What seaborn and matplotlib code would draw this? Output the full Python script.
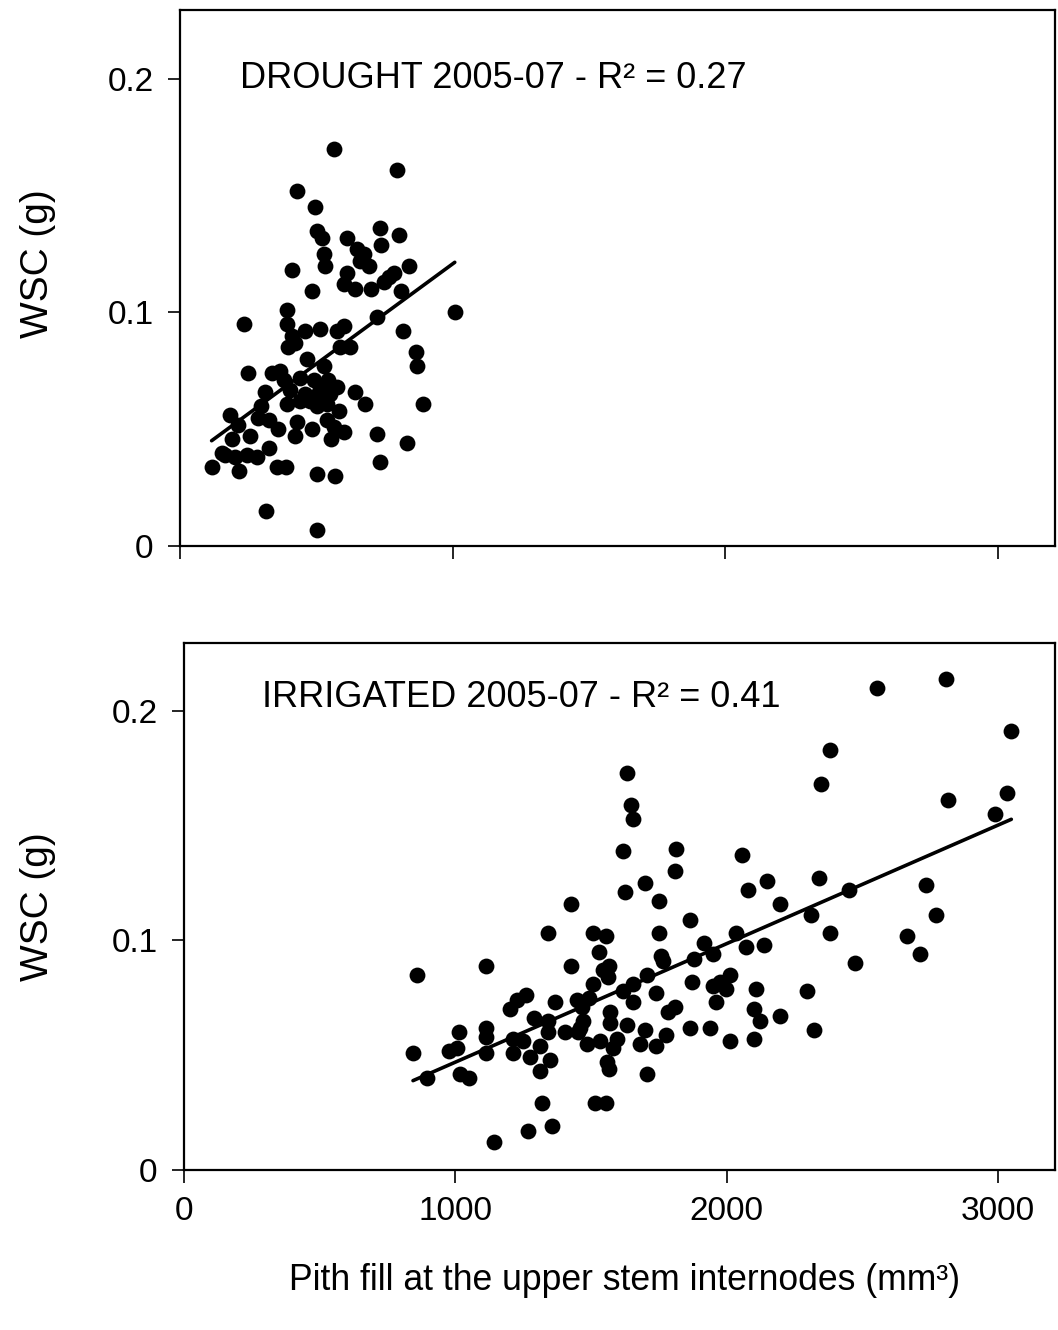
import numpy as np
import pandas as pd
import matplotlib
matplotlib.use("Agg")
import matplotlib.pyplot as plt
import seaborn as sns

# ==================================================
# DATA
# ==================================================

drought_pith = [
    564, 797, 431, 496, 503, 521, 527, 533, 732, 803, 739, 613, 650, 674,
    662, 692, 411, 613, 784, 766, 750, 841, 600, 643, 701, 809, 484, 1008,
    723, 392, 235, 819, 392, 512, 576, 600, 864, 870, 892, 411, 423, 398,
    466, 588, 625, 249, 337, 368, 380, 527, 441, 490, 515, 576, 643, 680,
    312, 392, 441, 478, 503, 539, 582, 184, 214, 286, 325, 361, 429, 423,
    484, 539, 564, 555, 600, 723, 833, 190, 257, 153, 202, 116, 218, 245,
    282, 325, 355, 390, 503, 570, 732, 315, 503, 460, 507, 551, 544, 404,
    298, 165, 460,
]
drought_wsc = [
    0.170, 0.161, 0.152, 0.145, 0.135, 0.132, 0.125, 0.120, 0.136, 0.133,
    0.129, 0.132, 0.127, 0.125, 0.122, 0.120, 0.118, 0.117, 0.117, 0.115,
    0.113, 0.120, 0.112, 0.110, 0.110, 0.109, 0.109, 0.100, 0.098, 0.101,
    0.095, 0.092, 0.095, 0.093, 0.092, 0.094, 0.083, 0.077, 0.061, 0.090,
    0.087, 0.085, 0.080, 0.085, 0.085, 0.074, 0.074, 0.075, 0.071, 0.077,
    0.072, 0.071, 0.068, 0.068, 0.066, 0.061, 0.066, 0.061, 0.062, 0.062,
    0.060, 0.061, 0.058, 0.056, 0.052, 0.055, 0.054, 0.050, 0.053, 0.047,
    0.050, 0.054, 0.051, 0.046, 0.049, 0.048, 0.044, 0.046, 0.047, 0.040,
    0.038, 0.034, 0.032, 0.039, 0.038, 0.042, 0.034, 0.034, 0.031, 0.030,
    0.036, 0.015, 0.007, 0.065, 0.065, 0.065, 0.071, 0.067, 0.060, 0.039,
    0.092,
]

irrigated_pith = [
    1631, 1647, 1653, 1619, 1815, 1809, 1699, 1625, 1751, 1426, 1864, 1341,
    1508, 1555, 1529, 1751, 1917, 1950, 1880, 1757, 1764, 1114, 859, 1426,
    1567, 1543, 1561, 1508, 1705, 1656, 1619, 1741, 1656, 1874, 1950, 1974,
    1999, 1962, 1260, 1227, 1202, 1368, 1447, 1494, 1466, 1472, 1570, 1570,
    1631, 1290, 1343, 1343, 1404, 1453, 1809, 1784, 1864, 1938, 1699, 1778,
    1012, 1114, 1114, 1214, 1251, 1484, 1533, 1594, 1582, 1680, 1741, 2011,
    844, 975, 1006, 1114, 1214, 1276, 1313, 1349, 1313, 1558, 1567, 896,
    1018, 1049, 1705, 1319, 1515, 1555, 1267, 1356, 1143, 2808, 2553, 3049,
    2379, 2348, 2815, 3034, 2989, 2056, 2078, 2150, 2195, 2342, 2450, 2734,
    2771, 2311, 2379, 2036, 2072, 2137, 2663, 2712, 2472, 2011, 2109, 2295,
    2100, 2121, 2195, 2321, 2100, 1460,
]
irrigated_wsc = [
    0.173, 0.159, 0.153, 0.139, 0.140, 0.130, 0.125, 0.121, 0.117, 0.116,
    0.109, 0.103, 0.103, 0.102, 0.095, 0.103, 0.099, 0.094, 0.092, 0.093,
    0.091, 0.089, 0.085, 0.089, 0.089, 0.087, 0.084, 0.081, 0.085, 0.081,
    0.078, 0.077, 0.073, 0.082, 0.080, 0.082, 0.079, 0.073, 0.076, 0.074,
    0.070, 0.073, 0.074, 0.075, 0.071, 0.065, 0.069, 0.064, 0.063, 0.066,
    0.065, 0.060, 0.060, 0.060, 0.071, 0.069, 0.062, 0.062, 0.061, 0.059,
    0.060, 0.062, 0.058, 0.057, 0.056, 0.055, 0.056, 0.057, 0.053, 0.055,
    0.054, 0.056, 0.051, 0.052, 0.053, 0.051, 0.051, 0.049, 0.054, 0.048,
    0.043, 0.047, 0.044, 0.040, 0.042, 0.040, 0.042, 0.029, 0.029, 0.029,
    0.017, 0.019, 0.012, 0.214, 0.210, 0.191, 0.183, 0.168, 0.161, 0.164,
    0.155, 0.137, 0.122, 0.126, 0.116, 0.127, 0.122, 0.124, 0.111, 0.111,
    0.103, 0.103, 0.097, 0.098, 0.102, 0.094, 0.090, 0.085, 0.079, 0.078,
    0.070, 0.065, 0.067, 0.061, 0.057, 0.062,
]

panel_labels = ["DROUGHT 2005-07 - R\u00b2 = 0.27", "IRRIGATED 2005-07 - R\u00b2 = 0.41"]
x_ticks = [0, 1000, 2000, 3000]
y_ticks = [0, 0.1, 0.2]
y_tick_labels = ["0", "0.1", "0.2"]

drought = pd.DataFrame({"pith": drought_pith, "wsc": drought_wsc})
irrigated = pd.DataFrame({"pith": irrigated_pith, "wsc": irrigated_wsc})

# ==================================================
# STYLE
# ==================================================

sns.set_style("ticks")
plt.rcParams["font.family"] = ["Liberation Sans", "DejaVu Sans"]
plt.rcParams["text.color"] = "black"
plt.rcParams["axes.labelcolor"] = "black"
plt.rcParams["xtick.color"] = "black"
plt.rcParams["ytick.color"] = "black"

fig = plt.figure(figsize=(10.58, 13.30), dpi=100)

ax1 = fig.add_axes([180 / 1058, 1 - 546 / 1330, 875 / 1058, 536 / 1330])
ax2 = fig.add_axes([184 / 1058, 1 - 1170 / 1330, 871 / 1058, 527 / 1330])

# ==================================================
# PANELS
# ==================================================

for ax, df, label, lx, ly, ylx, yly in [
    (ax1, drought, panel_labels[0], 0.0686, 0.854, -0.162, 0.526),
    (ax2, irrigated, panel_labels[1], 0.0896, 0.879, -0.168, 0.50),
]:
    sns.regplot(
        data=df,
        x="pith",
        y="wsc",
        ax=ax,
        ci=None,
        color="black",
        scatter_kws={"s": 130, "linewidths": 0, "alpha": 1},
        line_kws={"lw": 2.6, "color": "black"},
    )

    ax.set_xlim(0, 3210)
    ax.set_ylim(0, 0.2295)
    ax.set_xticks(x_ticks)
    ax.set_yticks(y_ticks)
    ax.set_yticklabels(y_tick_labels)

    ax.tick_params(axis="both", direction="out", length=9, width=1.2,
                   color="black", labelcolor="black", labelsize=24, pad=10)

    for side in ["left", "right", "top", "bottom"]:
        ax.spines[side].set_visible(True)
        ax.spines[side].set_linewidth(1.6)
        ax.spines[side].set_color("black")

    ax.text(lx, ly, label, transform=ax.transAxes, fontsize=26,
            va="baseline", ha="left", color="black")

    ax.set_ylabel("WSC (g)", fontsize=28, va="center", color="black")
    ax.yaxis.set_label_coords(ylx, yly)

ax1.set_xlabel("")
ax1.set_xticklabels([])

ax2.set_xlabel("Pith fill at the upper stem internodes (mm\u00b3)", fontsize=25.6,
               va="center", color="black")
ax2.xaxis.set_label_coords(0.506, -0.209)

plt.savefig("out.png", dpi=100)
